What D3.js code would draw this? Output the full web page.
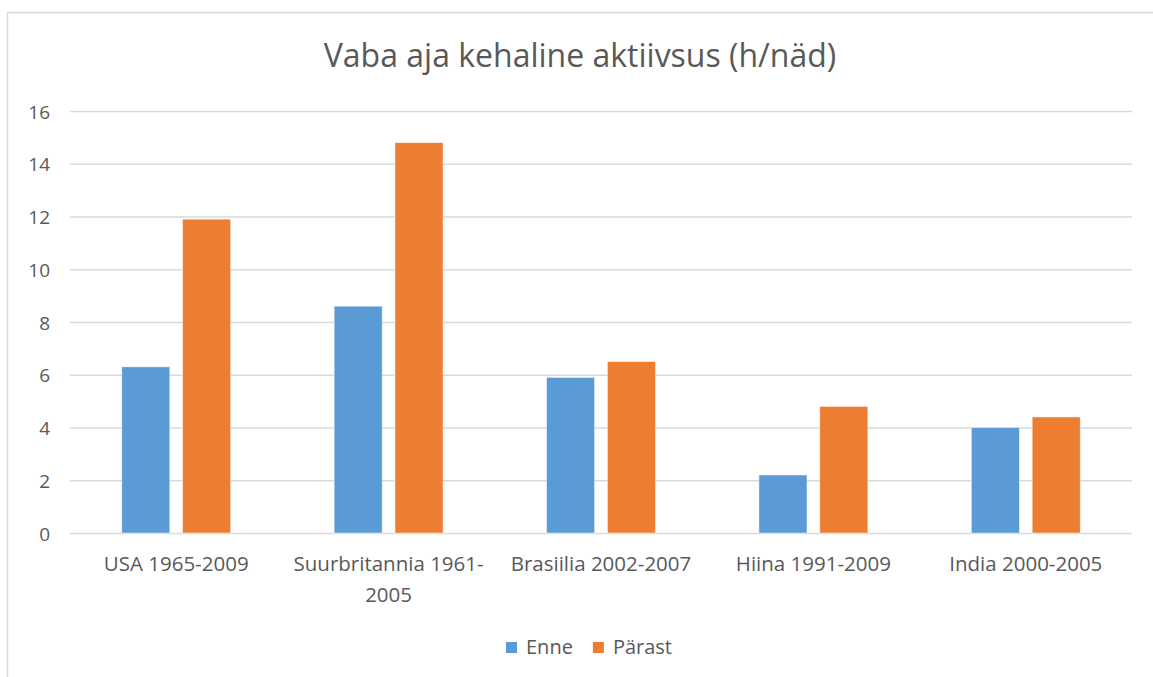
<!DOCTYPE html>
<html>
<head>
<meta charset="UTF-8">
<title>Vaba aja kehaline aktiivsus</title>
<script src="https://d3js.org/d3.v7.min.js"></script>
<style>
 body { margin: 0; background: #fff; }
 text { font-family: "Open Sans", Lato, sans-serif; fill: #595959; }
</style>
</head>
<body>
<svg id="chart" width="1153" height="677"></svg>
<script>
// data
var categories = ["USA 1965-2009", "Suurbritannia 1961-2005", "Brasiilia 2002-2007", "Hiina 1991-2009", "India 2000-2005"];
var enne   = [6.3, 8.6, 5.9, 2.2, 4.0];
var parast = [11.9, 14.8, 6.5, 4.8, 4.4];
var seriesNames = ["Enne", "Pärast"];
var yTicks = [0, 2, 4, 6, 8, 10, 12, 14, 16];

var colors = ["#5B9BD5", "#ED7D31"];
var svg = d3.select("#chart");

// outer chart frame (only top and left edges visible in the crop)
svg.append("line").attr("x1", 7).attr("x2", 1153).attr("y1", 12.5).attr("y2", 12.5)
  .style("stroke", "#d9d9d9").style("stroke-width", 1.5);
svg.append("line").attr("x1", 7.5).attr("x2", 7.5).attr("y1", 12).attr("y2", 677)
  .style("stroke", "#d9d9d9").style("stroke-width", 1.5);

var margin = {left: 70, right: 21, top: 111, bottom: 144};
var W = 1153, H = 677;

var x0 = d3.scaleBand().domain(categories).range([margin.left, W - margin.right]).paddingInner(0).paddingOuter(0);
var x1 = d3.scaleBand().domain(seriesNames).range([0, x0.bandwidth()]).paddingInner(0.21).paddingOuter(0.85);
var y = d3.scaleLinear().domain([0, 16]).range([H - margin.bottom, margin.top]);

// gridlines
var grid = svg.append("g").attr("transform", "translate(" + margin.left + ",0)")
  .call(d3.axisLeft(y).tickValues(yTicks).tickSize(-(W - margin.left - margin.right)).tickFormat(""));
grid.select(".domain").remove();
grid.selectAll("line").style("stroke", "#d9d9d9").style("stroke-width", 1.3);

// y labels
var yAxis = svg.append("g").attr("transform", "translate(50,1)")
  .call(d3.axisLeft(y).tickValues(yTicks).tickSize(0).tickPadding(0));
yAxis.select(".domain").remove();
yAxis.selectAll("text").style("font-size", "19px").style("fill", "#595959")
  .style("font-family", "'Open Sans', sans-serif");

// bars
var rows = categories.map(function(c, i) { return {cat: c, vals: [enne[i], parast[i]]}; });
var groups = svg.selectAll("g.cat").data(rows).enter().append("g")
  .attr("class", "cat")
  .attr("transform", function(d) { return "translate(" + x0(d.cat) + ",0)"; });
groups.selectAll("rect").data(function(d) {
    return d.vals.map(function(v, k) { return {name: seriesNames[k], v: v, k: k}; });
  })
  .enter().append("rect")
  .attr("x", function(d) { return x1(d.name); })
  .attr("width", x1.bandwidth())
  .attr("y", function(d) { return y(d.v); })
  .attr("height", function(d) { return y(0) - y(d.v); })
  .style("fill", function(d) { return colors[d.k]; })
  .style("stroke", "#fff").style("stroke-width", 0.8).style("stroke-opacity", 0.6);

// category labels, wrapped at the band width
var xl = svg.selectAll("text.xlab").data(categories).enter().append("text")
  .attr("class", "xlab")
  .attr("x", function(d) { return x0(d) + x0.bandwidth() / 2; })
  .attr("y", 571)
  .attr("text-anchor", "middle")
  .style("font-size", "20.5px");
xl.each(function(d) {
  var t = d3.select(this), maxW = x0.bandwidth() - 8;
  t.text(d);
  if (this.getComputedTextLength() <= maxW) return;
  var cut = d.lastIndexOf("-") + 1;
  t.text(null);
  t.append("tspan").attr("x", t.attr("x")).text(d.slice(0, cut));
  t.append("tspan").attr("x", t.attr("x")).attr("dy", 31).text(d.slice(cut));
});

// title
svg.append("text").attr("x", 580).attr("y", 67).attr("text-anchor", "middle")
  .style("font-size", "32px").text("Vaba aja kehaline aktiivsus (h/näd)");

// legend
var legend = svg.append("g").attr("transform", "translate(506,647)");
var lx = 0;
seriesNames.forEach(function(n, i) {
  var g = legend.append("g").attr("transform", "translate(" + lx + ",0)");
  g.append("rect").attr("x", 0).attr("y", -5).attr("width", 11).attr("height", 11).style("fill", colors[i]);
  var t = g.append("text").attr("x", 20).attr("y", 6.5).style("font-size", "20px").text(n);
  lx += 20 + t.node().getComputedTextLength() + 20;
});
</script>
</body>
</html>
